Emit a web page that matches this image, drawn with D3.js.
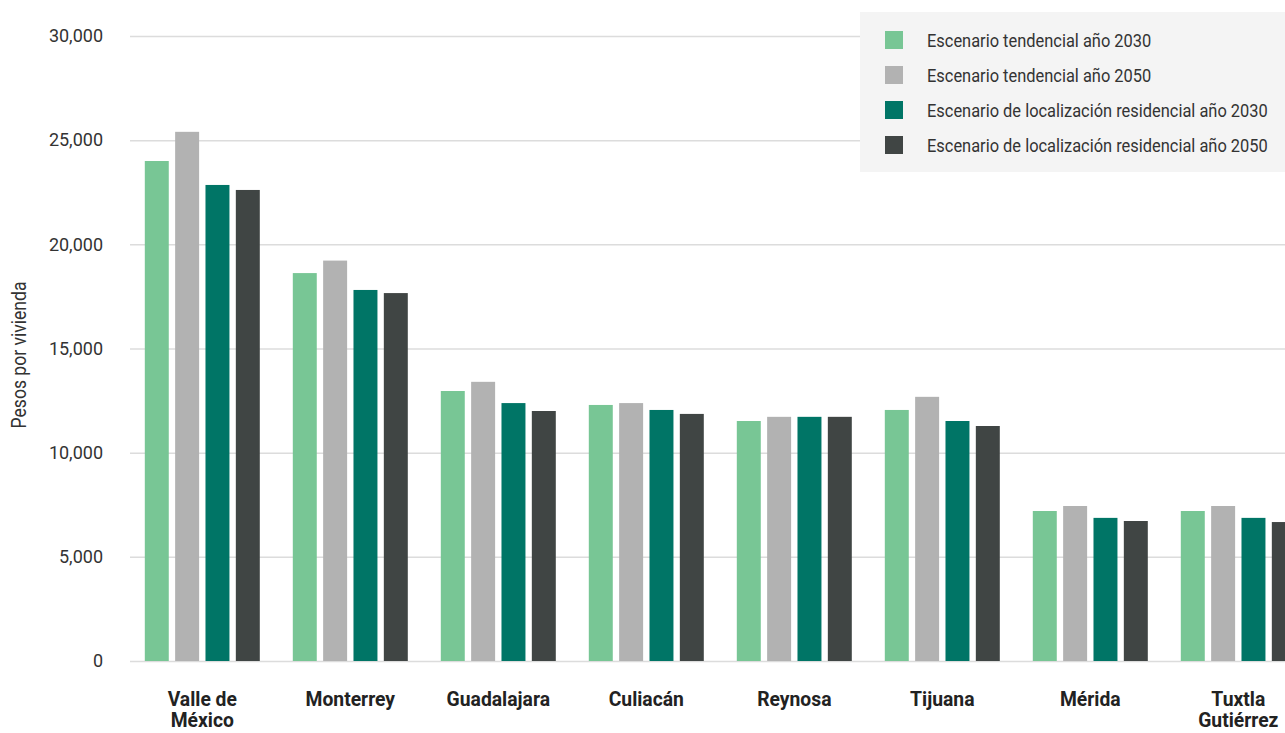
<!DOCTYPE html>
<html>
<head>
<meta charset="utf-8">
<title>Pesos por vivienda</title>
<script src="https://d3js.org/d3.v7.min.js"></script>
<style>
  body { margin: 0; background: #fff; }
  svg { display: block; font-family: Roboto, "Noto Sans", sans-serif; }
</style>
</head>
<body>
<svg id="chart"></svg>
<script>
const width = 1285, height = 733;

const categories = ["Valle de México", "Monterrey", "Guadalajara", "Culiacán", "Reynosa", "Tijuana", "Mérida", "Tuxtla Gutiérrez"];
const categoryLines = [["Valle de", "México"], ["Monterrey"], ["Guadalajara"], ["Culiacán"], ["Reynosa"], ["Tijuana"], ["Mérida"], ["Tuxtla", "Gutiérrez"]];
const seriesNames = [
  "Escenario tendencial año 2030",
  "Escenario tendencial año 2050",
  "Escenario de localización residencial año 2030",
  "Escenario de localización residencial año 2050"
];
const tend2030 = [24000, 18620, 12960, 12290, 11520, 12050, 7200, 7200];
const tend2050 = [25400, 19220, 13400, 12380, 11720, 12680, 7440, 7440];
const loc2030  = [22850, 17810, 12380, 12050, 11720, 11520, 6870, 6870];
const loc2050  = [22610, 17660, 12000, 11860, 11720, 11280, 6720, 6670];
const yTicks = [0, 5000, 10000, 15000, 20000, 25000, 30000];
const colors = ["#78c695", "#b2b2b2", "#007566", "#404544"];

const seriesValues = [tend2030, tend2050, loc2030, loc2050];

const svg = d3.select("#chart").attr("width", width).attr("height", height);

// helper: place text with a horizontal squeeze (condensed look)
function squeeze(sel, x, y, s) {
  return sel.attr("x", 0).attr("y", 0)
    .attr("transform", `translate(${x},${y}) scale(${s},1)`);
}

const x0 = d3.scaleBand()
  .domain(categories)
  .range([130, 1310.6])
  .paddingInner(0.223)
  .paddingOuter(0.1);

const x1 = d3.scaleBand()
  .domain(seriesNames)
  .range([0, x0.bandwidth()])
  .paddingInner(0.21);

const y = d3.scaleLinear().domain([0, 30000]).range([661, 36]);

// gridlines
svg.append("g")
  .selectAll("line")
  .data(yTicks)
  .join("line")
  .attr("x1", 130)
  .attr("x2", width)
  .attr("y1", d => y(d) + 0.5)
  .attr("y2", d => y(d) + 0.5)
  .attr("stroke", "#dcdcdc")
  .attr("stroke-width", 1.5);

// y tick labels
svg.append("g")
  .selectAll("text")
  .data(yTicks)
  .join("text")
  .attr("x", 103)
  .attr("y", d => y(d))
  .attr("dy", "0.35em")
  .attr("text-anchor", "end")
  .attr("fill", "#333")
  .attr("font-size", "18px")
  .text(d => d3.format(",")(d));

// y axis title
svg.append("text")
  .attr("transform", "translate(26,355) rotate(-90) scale(0.9,1)")
  .attr("text-anchor", "middle")
  .attr("fill", "#333")
  .attr("font-size", "19.5px")
  .text("Pesos por vivienda");

// bars
const rows = [];
categories.forEach((c, i) => {
  seriesNames.forEach((s, j) => rows.push({ cat: c, series: s, value: seriesValues[j][i], color: colors[j] }));
});

svg.append("g")
  .selectAll("rect")
  .data(rows)
  .join("rect")
  .attr("x", d => x0(d.cat) + x1(d.series))
  .attr("y", d => y(d.value))
  .attr("width", x1.bandwidth())
  .attr("height", d => y(0) - y(d.value))
  .attr("fill", d => d.color);

// category labels (one text per category, lines as tspans)
svg.append("g")
  .selectAll("text")
  .data(categories)
  .join("text")
  .each(function (c, i) {
    const t = d3.select(this)
      .call(squeeze, x0(c) + x0.bandwidth() / 2, 706, 0.92)
      .attr("text-anchor", "middle")
      .attr("fill", "#222")
      .attr("font-size", "21px")
      .attr("font-weight", "bold");
    categoryLines[i].forEach((line, k) => {
      t.append("tspan")
        .attr("x", 0)
        .attr("dy", k === 0 ? 0 : 21)
        .text(line);
    });
  });

// legend
const legend = svg.append("g");
legend.append("rect")
  .attr("x", 860).attr("y", 12)
  .attr("width", 425).attr("height", 160)
  .attr("fill", "#f4f4f4");

seriesNames.forEach((s, j) => {
  const ly = 40 + j * 35;
  legend.append("rect")
    .attr("x", 885).attr("y", ly - 9)
    .attr("width", 18).attr("height", 18)
    .attr("fill", colors[j]);
  legend.append("text")
    .call(squeeze, 927, ly, 0.865)
    .attr("dy", "0.35em")
    .attr("fill", "#333")
    .attr("font-size", "19px")
    .text(s);
});
</script>
</body>
</html>
